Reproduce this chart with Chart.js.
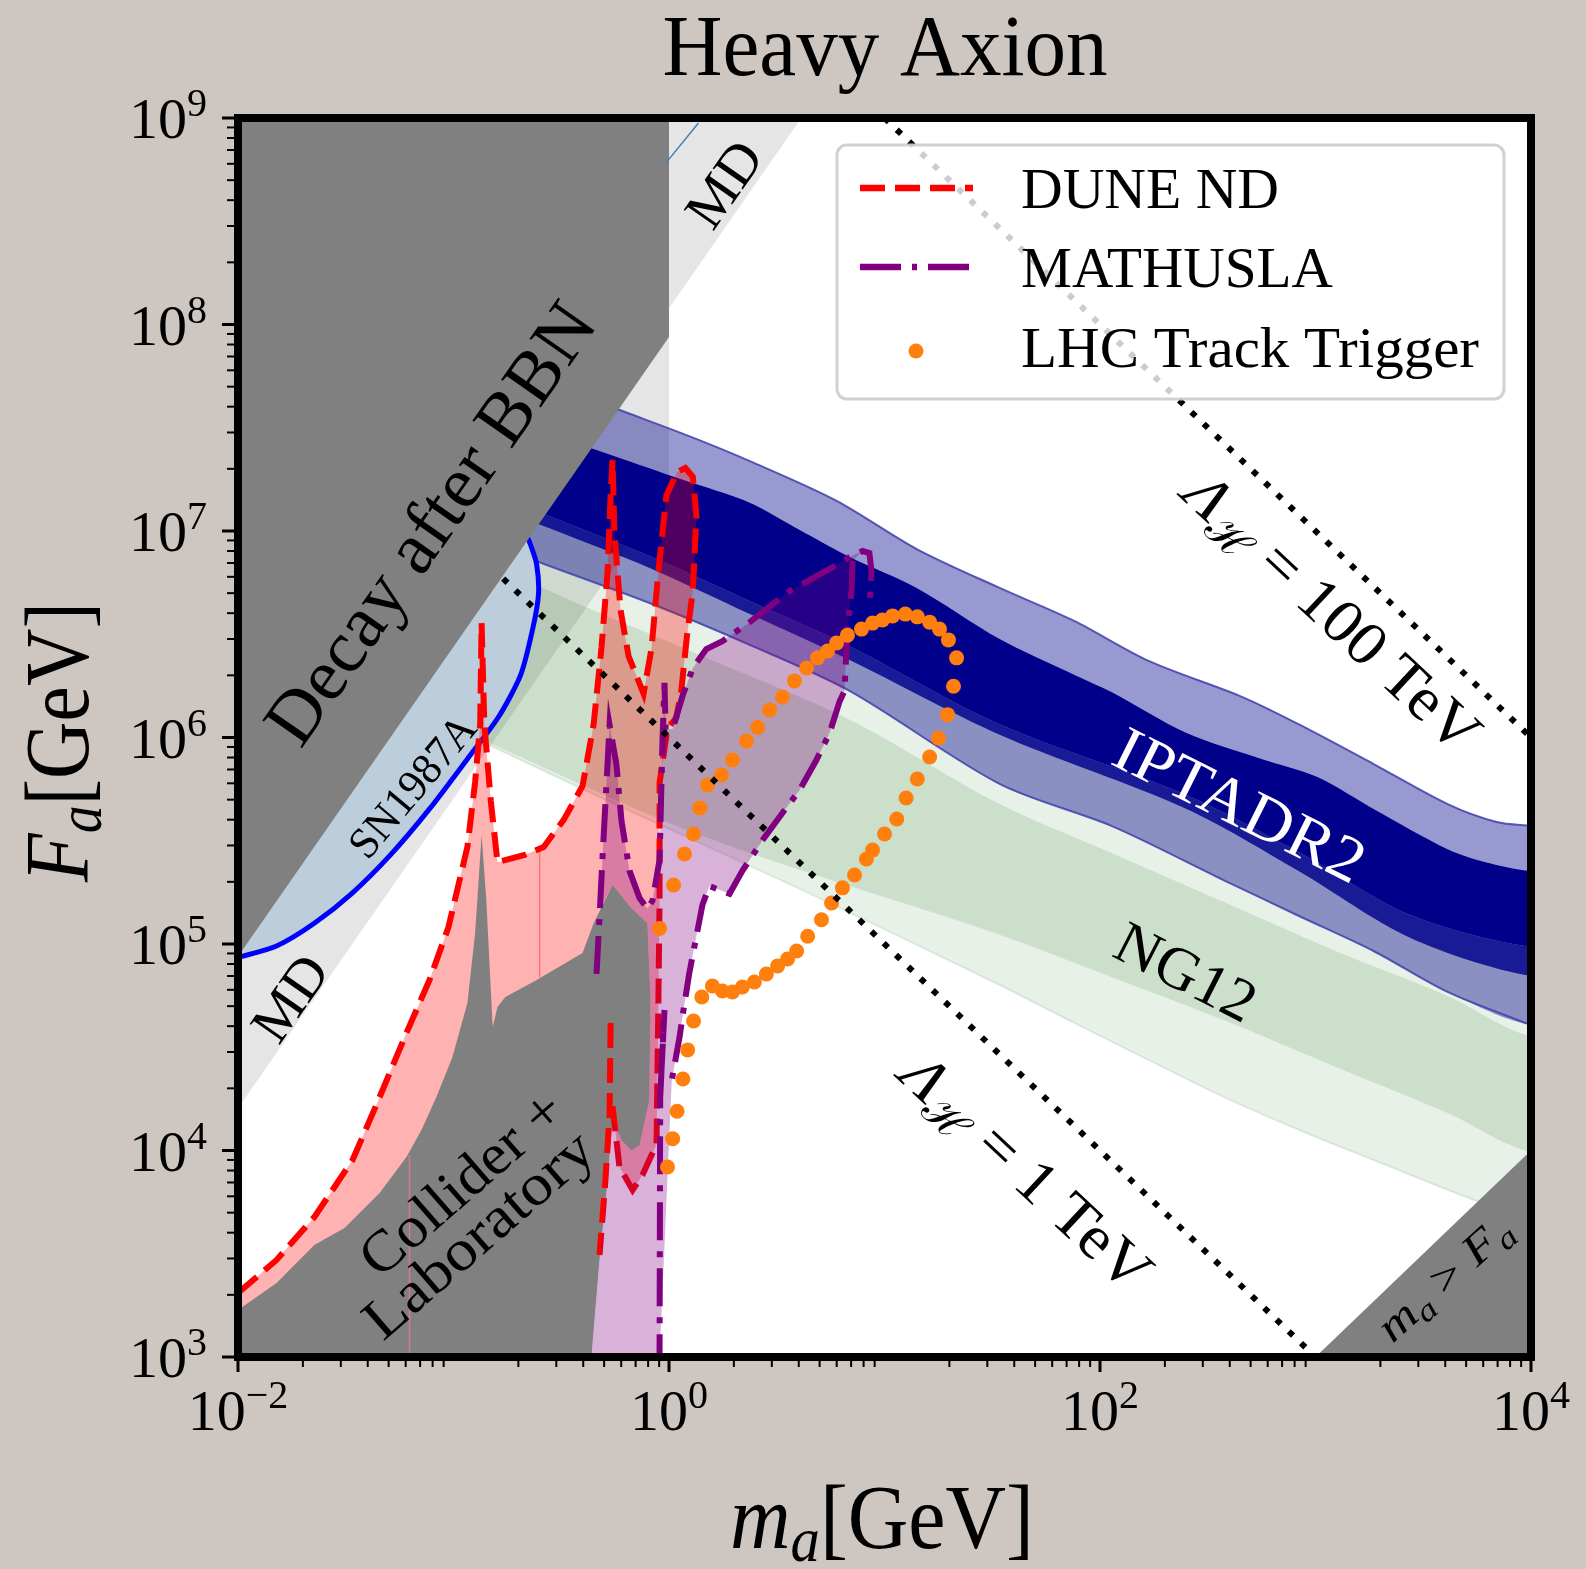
<!DOCTYPE html>
<html>
<head>
<meta charset="utf-8">
<title>Heavy Axion</title>
<script src="https://cdn.jsdelivr.net/npm/chart.js@4.4.1/dist/chart.umd.min.js"></script>
<style>
  html, body { margin: 0; padding: 0; background: #cdc6c1; }
  canvas { display: block; }
</style>
</head>
<body>
<canvas id="c" width="1586" height="1569"></canvas>
<script>
// ---------------- axes ----------------
const xRange = [1e-2, 1e4];          // m_a [GeV]
const yRange = [1e3, 1e9];           // F_a [GeV]
const xTickExponents = [-2, 0, 2, 4];
const yTickExponents = [3, 4, 5, 6, 7, 8, 9];

// ---------------- regions and curves, as [m_a, F_a] in GeV ----------------
const bbnRegion = [[0.01, 1e9], [1, 1e9], [1, 8.7e7], [0.01, 8.7e4]];
const mdRegion = [[0.01, 1.6e4], [1, 1.6e7], [1, 1.2e8], [4.11, 1e9], [0.01, 1e9]];
const mdTopSegment = [[0.964, 6.03e8], [1.37, 9.46e8]];

const sn1987aCurve = [[0.01, 8.6e4], [0.0151, 9.78e4], [0.0226, 1.26e5], [0.034, 1.77e5], [0.051, 2.7e5],
  [0.0774, 4.51e5], [0.116, 7.87e5], [0.162, 1.26e6], [0.205, 2.01e6], [0.233, 3.35e6], [0.248, 4.95e6],
  [0.243, 6.92e6], [0.228, 8.55e6], [0.218, 9.57e6]];

const iptaOuterUpper = [[0.2, 5.9e7], [0.608, 3.81e7], [1.24, 2.88e7], [2.37, 2.18e7], [5.99, 1.4e7], [14.1, 8.18e6],
  [34.2, 5.3e6], [76.2, 3.66e6], [168, 2.35e6], [458, 1.57e6], [834, 1.16e6], [1860, 7.44e5], [4100, 4.76e5],
  [6920, 3.9e5], [1e4, 3.73e5]];
const iptaOuterLower = [[0.1, 1.01e7], [0.279, 6.77e6], [0.813, 4.48e6], [2.37, 2.81e6], [6.89, 1.68e6],
  [34.2, 5.96e5], [113, 3.73e5], [374, 2.04e5], [834, 1.37e5], [1860, 9.25e4], [4100, 5.86e4], [1e4, 4.05e4]];
const iptaInnerUpper = [[0.2, 3.3e7], [0.461, 2.47e7], [1.16, 1.77e7], [2.37, 1.37e7], [4.04, 1.01e7], [6.89, 7.48e6],
  [14.1, 5.3e6], [34.2, 3.0e6], [76.2, 2.01e6], [113, 1.66e6], [252, 1.05e6], [561, 7.87e5], [1020, 6.44e5],
  [1860, 4.51e5], [4100, 2.88e5], [6150, 2.49e5], [1e4, 2.26e5]];
const iptaInnerMid = [[0.1, 1.8e7], [0.279, 1.18e7], [0.813, 7.57e6], [2.37, 4.58e6], [6.89, 2.77e6], [34.2, 1.16e6],
  [252, 5.27e5], [834, 2.79e5], [2760, 1.38e5], [1e4, 9.67e4]];
const iptaInnerLower = [[0.1, 1.58e7], [0.279, 1.03e7], [0.813, 6.62e6], [2.37, 3.96e6], [6.89, 2.37e6], [34.2, 1.03e6],
  [252, 4.51e5], [834, 2.26e5], [2760, 1.07e5], [1e4, 7.0e4]];

const ng12OuterLower = [[0.03, 2e6], [0.0652, 1.37e6], [0.476, 5.15e5], [4.04, 1.85e5], [34.2, 6.33e4], [76.2, 4.14e4],
  [168, 2.74e4], [374, 1.82e4], [834, 1.26e4], [1860, 8.99e3], [5470, 5.75e3], [1e4, 4.71e3]];
const ng12InnerUpper = [[0.0957, 9.04e6], [0.279, 5.12e6], [1.39, 2.51e6], [6.89, 1.22e6], [34.2, 4.76e5], [113, 2.76e5],
  [374, 1.6e5], [1240, 9.25e4], [4100, 5.6e4], [1e4, 3.58e4]];
const ng12InnerLower = [[0.0957, 1.15e6], [1.39, 3.37e5], [34.2, 1.11e5], [113, 6.92e4], [374, 4.28e4], [1240, 2.54e4],
  [4100, 1.52e4], [1e4, 9.84e3]];

const colliderRegion = [[0.01, 1e3], [0.01, 1.69e3], [0.0151, 2.28e3], [0.0226, 3.49e3], [0.0312, 4.21e3], [0.0454, 6.22e3],
  [0.0605, 9.31e3], [0.0711, 1.26e4], [0.0834, 1.82e4], [0.0989, 2.84e4], [0.116, 5.18e4], [0.126, 1.13e5],
  [0.135, 3.37e5], [0.142, 1.63e5], [0.152, 3.96e4], [0.16, 4.95e4], [0.174, 5.54e4], [0.243, 6.7e4],
  [0.397, 9.04e4], [0.447, 1.26e5], [0.547, 1.93e5], [0.67, 1.49e5], [0.794, 1.26e5], [0.82, 5.36e4],
  [0.811, 1.76e4], [0.73, 1.06e4], [0.67, 1.0e4], [0.602, 1.12e4], [0.547, 1.41e4], [0.519, 7.2e3],
  [0.476, 2.95e3], [0.436, 1e3]];

const duneContour = [[0.01, 2.04e3], [0.0151, 2.95e3], [0.0226, 4.76e3], [0.034, 8.99e3], [0.0435, 1.63e4],
  [0.0605, 3.71e4], [0.0774, 6.7e4], [0.0948, 1.21e5], [0.116, 2.95e5], [0.126, 6.1e5], [0.133, 1.16e6],
  [0.135, 3.58e6], [0.139, 1.16e6], [0.149, 4.92e5], [0.16, 2.49e5], [0.214, 2.7e5], [0.262, 2.95e5],
  [0.324, 3.98e5], [0.397, 5.82e5], [0.447, 1.16e6], [0.486, 2.71e6], [0.519, 6.4e6], [0.536, 1.49e7],
  [0.547, 2.21e7], [0.558, 9.77e6], [0.596, 4.14e6], [0.649, 2.48e6], [0.762, 1.63e6], [0.83, 2.71e6],
  [0.893, 6.4e6], [0.973, 1.49e7], [1.09, 1.93e7], [1.19, 2.02e7], [1.29, 1.83e7], [1.34, 1.19e7],
  [1.29, 5.12e6], [1.21, 3.07e6], [1.14, 1.68e6], [1.08, 1.24e6], [0.984, 1.11e6], [0.904, 6.03e5],
  [0.904, 1.63e5], [0.893, 5.36e4], [0.875, 1.07e4], [0.753, 7.6e3], [0.678, 6.44e3], [0.589, 8.32e3],
  [0.547, 1.64e4]];
const duneLowerBranch = [[0.536, 4.14e4], [0.53, 1.5e4], [0.507, 7.2e3], [0.476, 3.12e3]];
const duneFillClosure = [[0.53, 1.5e4], [0.507, 7.2e3], [0.476, 3.12e3], [0.436, 1e3], [0.01, 1e3]];
const duneEdgeA = [[0.251, 2.9e5], [0.251, 6.9e4]];
const duneEdgeB = [[0.0625, 9.5e3], [0.0625, 1e3]];

const mathuslaUpper = [[0.461, 7.16e4], [0.476, 1.35e5], [0.491, 2.58e5], [0.513, 6.03e5], [0.53, 1.15e6],
  [0.57, 7.44e5], [0.602, 3.94e5], [0.656, 2.26e5], [0.73, 1.67e5], [0.794, 1.48e5], [0.838, 1.62e5],
  [0.904, 2.55e5], [0.933, 9.73e5], [0.953, 1.84e6], [0.964, 1.1e6], [1.04, 1.1e6], [1.16, 1.61e6],
  [1.29, 2.17e6], [1.49, 2.68e6], [1.77, 2.93e6], [2.37, 3.62e6], [3.62, 5.12e6], [4.83, 6.05e6],
  [5.99, 6.84e6], [6.89, 7.48e6], [7.91, 8.0e6], [8.51, 7.82e6], [8.71, 6.33e6], [8.51, 4.29e6]];
const mathuslaLower = [[7.11, 7.16e6], [7.03, 5.12e6], [6.73, 3.32e6], [6.52, 1.68e6], [6.18, 1.49e6], [5.56, 1.05e6],
  [4.83, 7.78e5], [4.04, 5.57e5], [3.36, 4.31e5], [2.72, 3.19e5], [2.19, 2.26e5], [1.91, 1.75e5], [1.71, 1.83e5],
  [1.54, 1.91e5], [1.43, 1.55e5], [1.34, 1.09e5], [1.24, 7.16e4], [1.16, 4.58e4], [1.12, 3.55e4], [1.03, 2.19e4],
  [0.918, 2.19e4], [0.953, 4.79e4], [0.91, 1.8e4], [0.904, 1e3]];
// lower-left side of the MATHUSLA region, running along the collider bound
const mathuslaLowerLeft = [[0.436, 1e3], [0.476, 2.95e3], [0.519, 7.2e3], [0.547, 1.41e4], [0.602, 1.12e4],
  [0.67, 1.0e4], [0.73, 1.06e4], [0.811, 1.76e4], [0.82, 5.36e4], [0.794, 1.26e5], [0.67, 1.49e5],
  [0.547, 1.93e5], [0.48, 1.5e5]];

const lhcTrackTrigger = [[0.904, 1.19e5], [1.05, 1.93e5], [1.18, 2.73e5], [1.30, 3.41e5], [1.39, 4.56e5], [1.51, 5.89e5],
  [1.75, 6.58e5], [1.97, 7.78e5], [2.29, 9.62e5], [2.58, 1.12e6], [2.93, 1.36e6], [3.36, 1.57e6], [3.82, 1.88e6],
  [4.35, 2.17e6], [4.89, 2.43e6], [5.44, 2.62e6], [5.99, 2.87e6], [6.73, 3.13e6], [7.82, 3.35e6], [8.80, 3.58e6],
  [9.79, 3.71e6], [10.9, 3.88e6], [12.5, 3.96e6], [14.2, 3.84e6], [16.2, 3.62e6], [18.0, 3.35e6], [19.8, 2.97e6],
  [21.6, 2.43e6], [20.9, 1.77e6], [19.6, 1.29e6], [17.8, 9.95e5], [16.2, 8.05e5], [14.2, 6.30e5], [12.6, 5.09e5],
  [11.4, 4.03e5], [10.0, 3.41e5], [8.80, 2.85e5], [8.24, 2.58e5], [7.26, 2.16e5], [6.38, 1.87e5], [5.68, 1.58e5],
  [5.10, 1.31e5], [4.40, 1.09e5], [3.91, 9.25e4], [3.55, 8.46e4], [3.19, 7.82e4], [2.83, 7.16e4], [2.49, 6.55e4],
  [2.19, 6.19e4], [1.97, 5.86e4], [1.77, 5.92e4], [1.59, 6.26e4], [1.42, 5.54e4], [1.30, 4.24e4], [1.22, 3.07e4],
  [1.16, 2.22e4], [1.09, 1.55e4], [1.04, 1.14e4], [0.984, 8.32e3]];

// Lambda_H contours: F_a = Lambda^2 / m_a
const lambdaScales = [1e3, 1e5];               // 1 TeV, 100 TeV in GeV
const lambdaMassEnds = [[0.17, 1e3], [10, 1e4]];
const heavierThanDecay = [[1e3, 1e3], [1e4, 1e4], [1e4, 1e3]];  // m_a > F_a

const legendNames = ['DUNE ND', 'MATHUSLA', 'LHC Track Trigger'];

// ---------------- dataset assembly (listed bottom to top) ----------------
const xy = pts => pts.map(([m, F]) => ({ x: m, y: F }));
// closed band between two edges; the turn-around points sit outside the axes so smoothing stays clean
const band = (up, lo) => {
  const uL = up[up.length - 1], lL = lo[lo.length - 1];
  return up.concat([[3e4, uL[1]], [3e4, lL[1]]], lo.slice().reverse());
};
const layers = [];
function area(label, pts, color, smooth) {
  layers.push({ label, data: xy(pts), backgroundColor: color, borderColor: 'transparent', borderWidth: 0,
    fill: 'shape', pointRadius: 0, tension: smooth || 0, capBezierPoints: false });
}
function curve(label, pts, color, width, dash, cap, smooth) {
  layers.push({ label, data: xy(pts), borderColor: color, borderWidth: width, borderDash: dash || [],
    borderCapStyle: cap || 'butt', fill: false, pointRadius: 0, tension: smooth || 0, capBezierPoints: false });
}
const S = 0.3;

area('MD', mdRegion, '#e5e5e5');
area('NG12 outer', band(iptaInnerMid, ng12OuterLower), 'rgba(0,100,0,0.09)', S);
curve('NG12 outer edge', ng12OuterLower, 'rgba(0,100,0,0.10)', 2, [], 'butt', S);
area('NG12 inner', band(ng12InnerUpper, ng12InnerLower), 'rgba(0,100,0,0.12)', S);
area('IPTA outer', band(iptaOuterUpper, iptaOuterLower), 'rgba(0,0,139,0.4)', S);
area('IPTA inner edge', band(iptaInnerMid, iptaInnerLower), 'rgba(0,0,139,0.82)', S);
area('IPTA inner', band(iptaInnerUpper, iptaInnerMid), 'rgb(0,0,139)', S);
curve('IPTA upper edge', iptaOuterUpper, 'rgba(70,70,175,0.9)', 2, [], 'butt', S);
curve('IPTA lower edge', iptaOuterLower, 'rgba(70,70,175,0.9)', 2, [], 'butt', S);
area('SN1987A', sn1987aCurve.concat([[0.01, 1e8]]), '#bccedb');
curve('SN1987A edge', sn1987aCurve, '#0000ff', 5, [], 'round', 0.25);
area('BBN', bbnRegion, '#808080');
curve('MD top', mdTopSegment, '#3a7fc0', 1.5);
area('DUNE ND region', duneContour.concat(duneFillClosure), 'rgba(255,0,0,0.3)');
area('Collider + Laboratory', colliderRegion, '#808080');
curve('DUNE edge a', duneEdgeA, 'rgba(255,90,90,0.7)', 1.5);
curve('DUNE edge b', duneEdgeB, 'rgba(255,120,140,0.7)', 1.5);
curve('DUNE ND', duneContour, '#ff0000', 6, [25, 10]);
curve('DUNE ND branch', duneLowerBranch, '#ff0000', 6, [25, 10]);
area('MATHUSLA region', mathuslaLowerLeft.concat(mathuslaUpper.slice(2, 26), mathuslaLower.slice(0, 20), [[0.904, 1e3]]),
  'rgba(128,0,128,0.3)');
curve('MATHUSLA', mathuslaUpper, '#800080', 6, [38, 11, 6, 11]);
curve('MATHUSLA lower', mathuslaLower, '#800080', 6, [38, 11, 6, 11]);
layers.push({ label: 'LHC Track Trigger', data: xy(lhcTrackTrigger), showLine: false, pointRadius: 7.5,
  pointBackgroundColor: '#ff7f0e', pointBorderWidth: 0, pointBorderColor: 'transparent', fill: false });
lambdaScales.forEach((L, i) => {
  const [m0, m1] = lambdaMassEnds[i];
  curve('Lambda ' + L, [[m0, L * L / m0], [m1, L * L / m1]], '#000000', 6, [6, 11]);
});
area('m_a > F_a', heavierThanDecay, '#808080');

const datasets = layers.map((d, i) => Object.assign(d, { order: layers.length - i }));

// ---------------- drawing helpers ----------------
const SERIF = '"Liberation Serif", "Times New Roman", serif';
const fontOf = (px, it) => (it ? 'italic ' : '') + px + 'px ' + SERIF;

function drawRich(ctx, parts, x, y, opt) {
  const o = Object.assign({ angle: 0, align: 'center', color: '#000', mid: false }, opt || {});
  const ws = parts.map(p => { ctx.font = fontOf(p.px, p.it); return ctx.measureText(p.t).width; });
  const total = ws.reduce((a, b) => a + b, 0);
  const sx = o.width ? o.width / total : 1;
  ctx.save();
  ctx.translate(x, y);
  ctx.rotate(o.angle * Math.PI / 180);
  ctx.scale(sx, 1);
  let cx = o.align === 'center' ? -total / 2 : (o.align === 'right' ? -total : 0);
  const by = o.mid ? 0.33 * parts[0].px : 0;
  ctx.fillStyle = o.color;
  ctx.textAlign = 'left';
  ctx.textBaseline = 'alphabetic';
  parts.forEach((p, i) => {
    ctx.font = fontOf(p.px, p.it);
    ctx.fillText(p.t, cx, by + (p.dy || 0));
    cx += ws[i];
  });
  ctx.restore();
}

const supText = e => (e < 0 ? '\u2212' + Math.abs(e) : String(e));

const decorations = {
  id: 'decorations',
  beforeDraw(chart) {
    const { ctx, chartArea: a } = chart;
    ctx.save();
    ctx.fillStyle = '#cdc6c1';
    ctx.fillRect(0, 0, chart.width, chart.height);
    ctx.fillStyle = '#ffffff';
    ctx.fillRect(a.left, a.top, a.right - a.left, a.bottom - a.top);
    ctx.restore();
  },
  afterDatasetsDraw(chart) {
    const { ctx, chartArea: a, scales: { x: xs, y: ys } } = chart;
    // region labels
    drawRich(ctx, [{ t: 'Decay after BBN', px: 74 }], 430, 523, { angle: -55, mid: true, width: 520 });
    drawRich(ctx, [{ t: 'SN1987A', px: 44 }], 412, 786, { angle: -50, mid: true, width: 172 });
    drawRich(ctx, [{ t: 'MD', px: 56 }], 724, 184, { angle: -55, mid: true, width: 92 });
    drawRich(ctx, [{ t: 'MD', px: 56 }], 290, 998, { angle: -55, mid: true, width: 92 });
    drawRich(ctx, [{ t: 'IPTADR2', px: 64 }], 1240, 805, { angle: 26.5, mid: true, width: 272, color: '#ffffff' });
    drawRich(ctx, [{ t: 'NG12', px: 60 }], 1186, 972, { angle: 27, mid: true, width: 150 });
    drawRich(ctx, [{ t: '\u039B', px: 62, it: true }, { t: '\u210B', px: 42, dy: 10 }, { t: ' = 100 TeV', px: 62 }],
      1333, 612, { angle: 43, mid: true, width: 380 });
    drawRich(ctx, [{ t: '\u039B', px: 62, it: true }, { t: '\u210B', px: 42, dy: 10 }, { t: ' = 1 TeV', px: 62 }],
      1027, 1172, { angle: 43, mid: true, width: 318 });
    drawRich(ctx, [{ t: 'Collider +', px: 58 }], 461, 1183, { angle: -41, mid: true, width: 250 });
    drawRich(ctx, [{ t: 'Laboratory', px: 58 }], 478, 1234, { angle: -41, mid: true, width: 285 });
    drawRich(ctx, [{ t: 'm', px: 44, it: true }, { t: 'a', px: 31, it: true, dy: 8 }, { t: ' > ', px: 44 },
      { t: 'F', px: 44, it: true }, { t: 'a', px: 31, it: true, dy: 8 }], 1444, 1278, { angle: -42, mid: true, width: 165 });

    // legend
    ctx.save();
    const L = { x: 837, y: 145, w: 667, h: 254, r: 10 };
    ctx.beginPath();
    ctx.roundRect(L.x, L.y, L.w, L.h, L.r);
    ctx.fillStyle = 'rgba(255,255,255,0.8)';
    ctx.fill();
    ctx.lineWidth = 3;
    ctx.strokeStyle = 'rgba(204,204,204,0.9)';
    ctx.stroke();
    ctx.lineCap = 'butt';
    ctx.lineWidth = 6.5;
    ctx.strokeStyle = '#ff0000';
    ctx.setLineDash([25, 10]);
    ctx.beginPath(); ctx.moveTo(860, 188); ctx.lineTo(973, 188); ctx.stroke();
    ctx.strokeStyle = '#800080';
    ctx.setLineDash([41, 11, 5, 11]);
    ctx.beginPath(); ctx.moveTo(860, 267); ctx.lineTo(973, 267); ctx.stroke();
    ctx.setLineDash([]);
    ctx.fillStyle = '#ff7f0e';
    ctx.beginPath(); ctx.arc(916, 351, 7.5, 0, Math.PI * 2); ctx.fill();
    ctx.restore();
    const legendWidths = [258, 312, 458];
    const legendBase = [208, 287, 367];
    legendNames.forEach((n, i) => drawRich(ctx, [{ t: n, px: 57 }], 1021, legendBase[i], { align: 'left', width: legendWidths[i] }));

    // frame
    ctx.save();
    ctx.strokeStyle = '#000';
    ctx.lineWidth = 8;
    ctx.strokeRect(a.left, a.top, a.right - a.left, a.bottom - a.top);
    // ticks
    ctx.lineCap = 'butt';
    for (let e = -2; e < 4; e++) {
      for (let k = 2; k <= 9; k++) {
        const px = xs.getPixelForValue(k * Math.pow(10, e));
        ctx.lineWidth = 2;
        ctx.beginPath(); ctx.moveTo(px, a.bottom); ctx.lineTo(px, a.bottom + 10); ctx.stroke();
      }
    }
    for (let e = 3; e < 9; e++) {
      for (let k = 2; k <= 9; k++) {
        const py = ys.getPixelForValue(k * Math.pow(10, e));
        ctx.lineWidth = 2;
        ctx.beginPath(); ctx.moveTo(a.left, py); ctx.lineTo(a.left - 11, py); ctx.stroke();
      }
    }
    ctx.lineWidth = 3;
    xTickExponents.forEach(e => {
      const px = xs.getPixelForValue(Math.pow(10, e));
      ctx.beginPath(); ctx.moveTo(px, a.bottom); ctx.lineTo(px, a.bottom + 15); ctx.stroke();
    });
    yTickExponents.forEach(e => {
      const py = ys.getPixelForValue(Math.pow(10, e));
      ctx.beginPath(); ctx.moveTo(a.left, py); ctx.lineTo(a.left - 16, py); ctx.stroke();
    });
    ctx.restore();

    // tick labels
    xTickExponents.forEach(e => {
      const px = xs.getPixelForValue(Math.pow(10, e));
      drawRich(ctx, [{ t: '10', px: 58 }, { t: supText(e), px: 40, dy: -22 }], px, 1430, { align: 'center' });
    });
    yTickExponents.forEach(e => {
      const py = ys.getPixelForValue(Math.pow(10, e));
      drawRich(ctx, [{ t: '10', px: 58 }, { t: supText(e), px: 40, dy: -22 }], 207, py + 20, { align: 'right' });
    });

    // titles
    drawRich(ctx, [{ t: 'Heavy Axion', px: 86 }], 885, 75, { width: 445 });
    drawRich(ctx, [{ t: 'm', px: 90, it: true }, { t: 'a', px: 63, it: true, dy: 13 }, { t: '[GeV]', px: 90 }],
      882, 1548, { width: 304 });
    drawRich(ctx, [{ t: 'F', px: 90, it: true }, { t: 'a', px: 63, it: true, dy: 13 }, { t: '[GeV]', px: 90 }],
      88, 742, { angle: -90, width: 280 });
  }
};

new Chart(document.getElementById('c'), {
  type: 'line',
  data: { datasets },
  options: {
    responsive: false,
    devicePixelRatio: 1,
    animation: false,
    events: [],
    layout: { padding: { top: 118, right: 55, left: 0, bottom: 0 } },
    plugins: { legend: { display: false }, tooltip: { enabled: false }, filler: { propagate: false } },
    scales: {
      x: {
        type: 'logarithmic', min: xRange[0], max: xRange[1],
        grid: { display: false }, border: { display: false }, ticks: { display: false },
        afterFit(s) { s.height = 212; }
      },
      y: {
        type: 'logarithmic', min: yRange[0], max: yRange[1],
        grid: { display: false }, border: { display: false }, ticks: { display: false },
        afterFit(s) { s.width = 238; }
      }
    }
  },
  plugins: [decorations]
});
</script>
</body>
</html>
